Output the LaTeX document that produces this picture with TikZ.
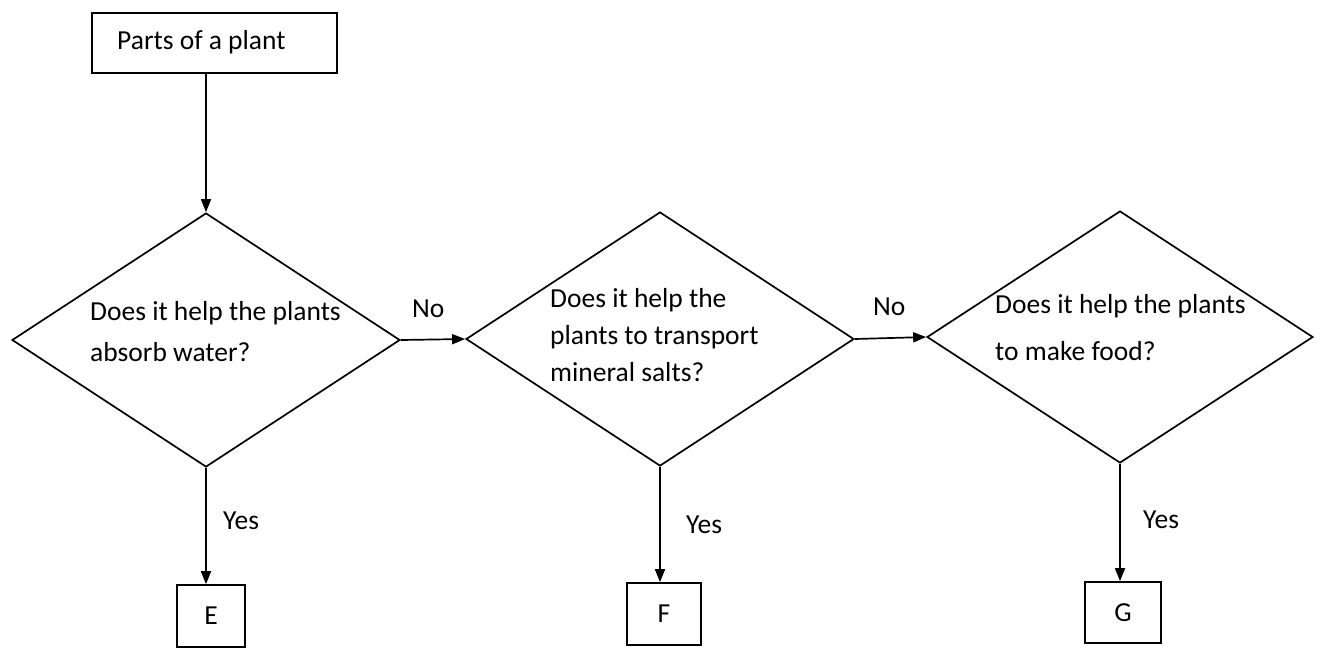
\documentclass[tikz,border=0pt]{standalone}
\usepackage{fontspec}
\setmainfont{Carlito}
\usetikzlibrary{shapes.geometric,arrows.meta}
\begin{document}
\begin{tikzpicture}[x=1pt,y=-1pt,
  every node/.style={inner sep=0pt},
  box/.style={draw, line width=1.7pt, rectangle},
  dec/.style={draw, line width=1.7pt, shape=diamond, minimum width=388pt, minimum height=254pt},
  lbl/.style={font=\fontsize{27.5}{33}\selectfont, anchor=base west},
  ctext/.style={font=\fontsize{27.5}{33}\selectfont},
  conn/.style={line width=1.7pt, -{Triangle[length=13pt,width=10pt]}}]
\useasboundingbox (0,0) rectangle (1321,649);
% start box
\node[box, minimum width=245pt, minimum height=60pt] (start) at (214.5,43) {};
\node[lbl] (starttext) at (117,49) {Parts of a plant};
% decisions
\node[dec] (d1) at (206,340) {};
\node[dec] (d2) at (660,339) {};
\node[dec, minimum width=386pt, minimum height=252pt] (d3) at (1120,337) {};
\node[lbl] (t1a) at (90,320) {Does it help the plants};
\node[lbl] (t1b) at (90,361) {absorb water?};
\node[lbl] (t2a) at (550,307) {Does it help the};
\node[lbl] (t2b) at (550,344) {plants to transport};
\node[lbl] (t2c) at (550,381) {mineral salts?};
\node[lbl] (t3a) at (995,313) {Does it help the plants};
\node[lbl] (t3b) at (995,360) {to make food?};
% result boxes
\node[box, ctext, minimum width=68pt, minimum height=62pt] (e) at (211,616) {E};
\node[box, ctext, minimum width=74pt, minimum height=62pt] (f) at (664,614) {F};
\node[box, ctext, minimum width=76pt, minimum height=61pt] (g) at (1123,612.5) {G};
% connectors
\draw[conn] (start.south -| d1.north) -- (d1.north);
\draw[conn] (d1.east) -- (d2.west);
\draw[conn] (d2.east) -- (d3.west);
\draw[conn] (d1.south) -- (d1.south |- e.north);
\draw[conn] (d2.south) -- (d2.south |- f.north);
\draw[conn] (d3.south) -- (d3.south |- g.north);
% labels
\node[lbl] (no1) at (412,317) {No};
\node[lbl] (no2) at (873,315) {No};
\node[lbl] (yes1) at (223,529) {Yes};
\node[lbl] (yes2) at (686,533) {Yes};
\node[lbl] (yes3) at (1143,528) {Yes};
\end{tikzpicture}
\end{document}
